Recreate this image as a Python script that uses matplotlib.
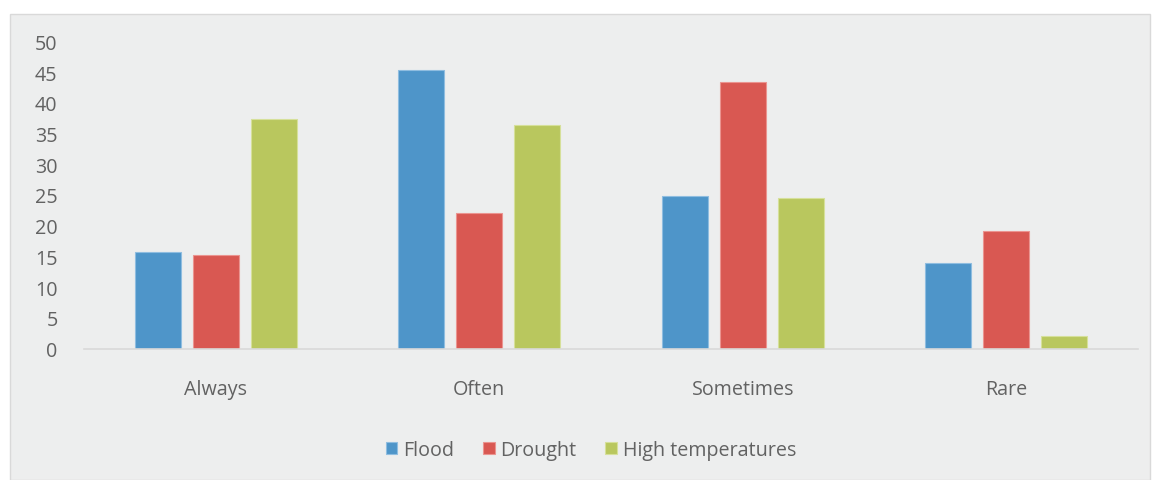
import matplotlib
matplotlib.use("Agg")
from matplotlib import pyplot as plt
from matplotlib.patches import Rectangle
import numpy as np

categories = ["Always", "Often", "Sometimes", "Rare"]
series_names = ["Flood", "Drought", "High temperatures"]
flood = [15.7, 45.4, 24.8, 13.9]
drought = [15.2, 22.0, 43.4, 19.2]
high_temp = [37.4, 36.3, 24.5, 2.0]
yticks = [0, 5, 10, 15, 20, 25, 30, 35, 40, 45, 50]

colors = ["#4e95c9", "#d95852", "#b9c75e"]
edges = ["#8fbde0", "#eb9490", "#d6e09a"]
text_grey = "#626262"
fs = 14.2

plt.rcParams.update({
    "font.family": ["Open Sans", "DejaVu Sans"],
    "font.size": fs,
})

fig = plt.figure(figsize=(11.54, 4.81), dpi=100)
fig.patch.set_facecolor("white")
# grey chart panel behind everything
panel = Rectangle((10 / 1154, 0), 1140 / 1154, 466 / 481,
                  transform=fig.transFigure, facecolor="#edeeee",
                  edgecolor="#d9d9d9", linewidth=1.0, zorder=-5)
fig.add_artist(panel)

ax = fig.add_axes([84 / 1154, 1 - 349.5 / 481, 1054 / 1154, 307.2 / 481])
ax.set_facecolor("none")
ax.set_zorder(1)

x = np.arange(len(categories))
offset = 0.22
width = 0.175
for i, (vals, name) in enumerate(zip([flood, drought, high_temp], series_names)):
    ax.bar(x + (i - 1) * offset, vals, width, color=colors[i],
           edgecolor=edges[i], linewidth=0.8, label=name, zorder=2)

ax.set_xlim(-0.5, len(categories) - 0.5)
ax.set_ylim(0, 50)
ax.set_yticks(yticks)
ax.set_xticks(x)
ax.set_xticklabels(categories)
for s in ["top", "right", "left"]:
    ax.spines[s].set_visible(False)
ax.spines["bottom"].set_color("#d9d9d9")
ax.spines["bottom"].set_linewidth(1.2)
ax.tick_params(axis="both", length=0, colors=text_grey, labelsize=fs)
ax.tick_params(axis="y", pad=19)
ax.tick_params(axis="x", pad=22)

leg = ax.legend(loc="center", bbox_to_anchor=(591 / 1154, 1 - 451 / 481),
                bbox_transform=fig.transFigure, ncol=3, frameon=False,
                handlelength=0.6, handleheight=0.6, handletextpad=0.3,
                columnspacing=1.45, fontsize=fs)
for t in leg.get_texts():
    t.set_color(text_grey)

fig.savefig("out.png", dpi=100, facecolor=fig.get_facecolor())
